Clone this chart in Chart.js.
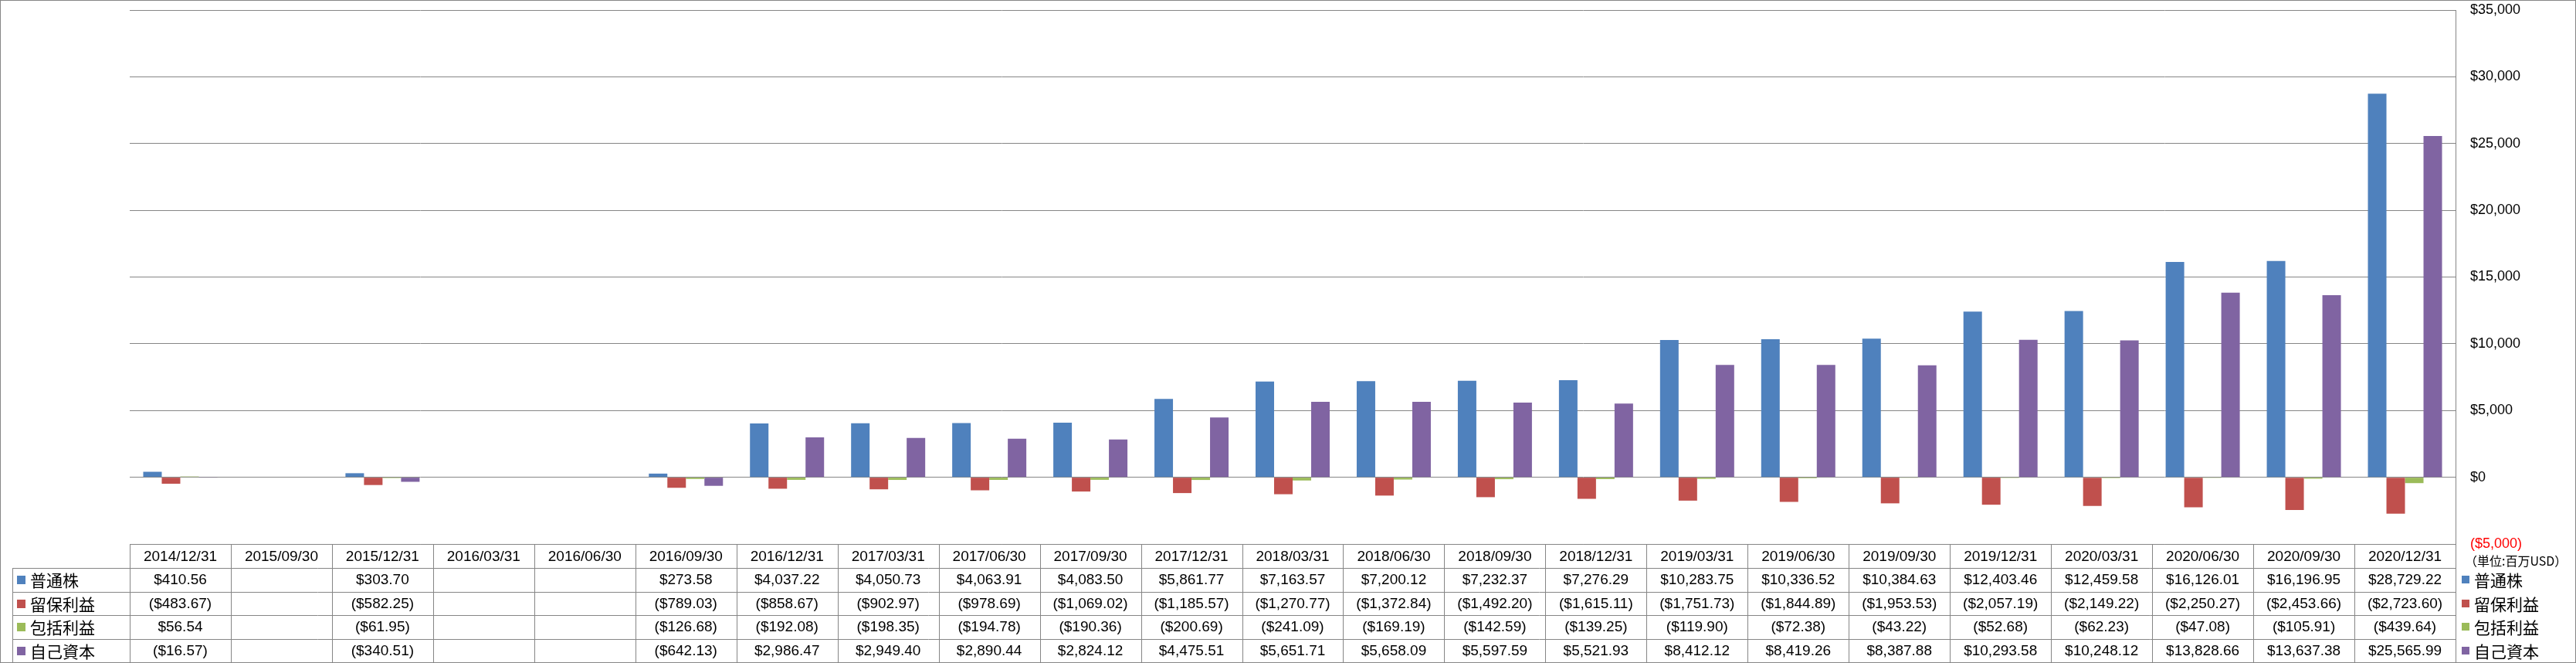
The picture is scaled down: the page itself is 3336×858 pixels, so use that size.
<!DOCTYPE html>
<html>
<head>
<meta charset="utf-8">
<script src="https://cdn.jsdelivr.net/npm/chart.js@4.4.1/dist/chart.umd.min.js"></script>
<style>
html,body{margin:0;padding:0;background:#fff;}
canvas{display:block;}
</style>
</head>
<body>
<canvas id="c" width="3336" height="858"></canvas>
<script>
// ---- data ----
const categories = ['2014/12/31','2015/09/30','2015/12/31','2016/03/31','2016/06/30','2016/09/30','2016/12/31','2017/03/31','2017/06/30','2017/09/30','2017/12/31','2018/03/31','2018/06/30','2018/09/30','2018/12/31','2019/03/31','2019/06/30','2019/09/30','2019/12/31','2020/03/31','2020/06/30','2020/09/30','2020/12/31'];
const commonStock = [410.56,null,303.70,null,null,273.58,4037.22,4050.73,4063.91,4083.50,5861.77,7163.57,7200.12,7232.37,7276.29,10283.75,10336.52,10384.63,12403.46,12459.58,16126.01,16196.95,28729.22];
const retainedEarnings = [-483.67,null,-582.25,null,null,-789.03,-858.67,-902.97,-978.69,-1069.02,-1185.57,-1270.77,-1372.84,-1492.20,-1615.11,-1751.73,-1844.89,-1953.53,-2057.19,-2149.22,-2250.27,-2453.66,-2723.60];
const comprehensiveIncome = [56.54,null,-61.95,null,null,-126.68,-192.08,-198.35,-194.78,-190.36,-200.69,-241.09,-169.19,-142.59,-139.25,-119.90,-72.38,-43.22,-52.68,-62.23,-47.08,-105.91,-439.64];
const equity = [-16.57,null,-340.51,null,null,-642.13,2986.47,2949.40,2890.44,2824.12,4475.51,5651.71,5658.09,5597.59,5521.93,8412.12,8419.26,8387.88,10293.58,10248.12,13828.66,13637.38,25565.99];
const seriesNames = ['普通株','留保利益','包括利益','自己資本'];
const seriesColors = ['#4F81BD','#C0504D','#9BBB59','#8064A2'];
const yMin = -5000, yMax = 35000, yStep = 5000;
const unitLabel = '（単位:百万USD）';

const allSeries = [commonStock, retainedEarnings, comprehensiveIncome, equity];
const LINE = '#868686';
const LATIN = '"Liberation Sans", Arial, sans-serif';
const CJK = '"Noto Sans CJK JP", sans-serif';

function withCommas(intStr){ return intStr.replace(/\B(?=(\d{3})+$)/g, ','); }
function fmtVal(v){
  if (v === null || v === undefined) return '';
  const a = Math.abs(v).toFixed(2).split('.');
  const s = '$' + withCommas(a[0]) + '.' + a[1];
  return v < 0 ? '(' + s + ')' : s;
}
function fmtTick(v){
  const s = '$' + withCommas(String(Math.abs(Math.round(v))));
  return v < 0 ? '(' + s + ')' : s;
}

function hline(ctx, x1, x2, y){ const yy = Math.round(y) + 0.5; ctx.beginPath(); ctx.moveTo(x1, yy); ctx.lineTo(x2, yy); ctx.stroke(); }
function vline(ctx, x, y1, y2){ const xx = Math.round(x) + 0.5; ctx.beginPath(); ctx.moveTo(xx, y1); ctx.lineTo(xx, y2); ctx.stroke(); }

const tablePlugin = {
  id: 'dataTable',
  beforeDraw(chart){
    const ctx = chart.ctx;
    ctx.save();
    ctx.fillStyle = '#fff';
    ctx.fillRect(0, 0, chart.width, chart.height);
    ctx.restore();
  },
  afterDraw(chart){
    const ctx = chart.ctx;
    const ca = chart.chartArea;
    const n = categories.length;
    const cw = (ca.right - ca.left) / n;
    const top = ca.bottom;
    const rows = [top, top + 31, top + 61.5, top + 92, top + 122.5, top + 153];
    const legLeft = 16;
    ctx.save();
    ctx.strokeStyle = LINE;
    ctx.lineWidth = 1;
    hline(ctx, ca.left, ca.right, rows[0]);
    for (let r = 1; r < rows.length; r++) hline(ctx, legLeft, ca.right, rows[r]);
    for (let i = 0; i <= n; i++) vline(ctx, ca.left + i * cw, rows[0], rows[5]);
    vline(ctx, legLeft, rows[1], rows[5]);
    ctx.fillStyle = '#000';
    ctx.textAlign = 'center';
    ctx.textBaseline = 'middle';
    ctx.font = '19px ' + LATIN;
    for (let i = 0; i < n; i++) {
      const cx = ca.left + (i + 0.5) * cw;
      ctx.fillText(categories[i], cx, (rows[0] + rows[1]) / 2 + 1);
      for (let s = 0; s < allSeries.length; s++) {
        const cy = (rows[s + 1] + rows[s + 2]) / 2 + 1;
        ctx.fillText(fmtVal(allSeries[s][i]), cx, cy);
      }
    }
    ctx.textAlign = 'left';
    ctx.font = '21px ' + CJK;
    for (let s = 0; s < seriesNames.length; s++) {
      const cy = (rows[s + 1] + rows[s + 2]) / 2;
      ctx.fillStyle = seriesColors[s];
      ctx.fillRect(22, Math.round(cy - 5), 11, 11);
      ctx.fillRect(ca.right + 8, Math.round(cy - 5), 10, 10);
      ctx.fillStyle = '#000';
      ctx.fillText(seriesNames[s], 39, cy + 1);
      ctx.fillText(seriesNames[s], ca.right + 24, cy + 1);
    }
    ctx.font = '16px ' + CJK;
    ctx.fillText(unitLabel, ca.right + 12, top + 22);
    ctx.strokeStyle = LINE;
    ctx.strokeRect(0.5, 0.5, chart.width - 1, chart.height - 1);
    ctx.restore();
  }
};

new Chart(document.getElementById('c'), {
  type: 'bar',
  data: {
    labels: categories,
    datasets: allSeries.map((d, i) => ({
      label: seriesNames[i],
      data: d,
      backgroundColor: seriesColors[i],
      borderWidth: 0,
      categoryPercentage: 0.733,
      barPercentage: 1.0
    }))
  },
  options: {
    responsive: false,
    devicePixelRatio: 1,
    animation: false,
    layout: { padding: { left: 168, top: 13, right: 0, bottom: 154 } },
    plugins: { legend: { display: false }, tooltip: { enabled: false } },
    scales: {
      x: { display: false },
      y: {
        position: 'right',
        min: yMin,
        max: yMax,
        ticks: {
          stepSize: yStep,
          padding: 19,
          color: (c) => (c.tick && c.tick.value < 0) ? '#FF0000' : '#000000',
          font: { family: LATIN, size: 18 },
          callback: (v) => fmtTick(v)
        },
        grid: { color: LINE, drawTicks: false, lineWidth: 1 },
        border: { color: LINE, display: true },
        afterFit(scale){ scale.width = 156; scale.paddingTop = 0; scale.paddingBottom = 0; }
      }
    }
  },
  plugins: [tablePlugin]
});
</script>
</body>
</html>
